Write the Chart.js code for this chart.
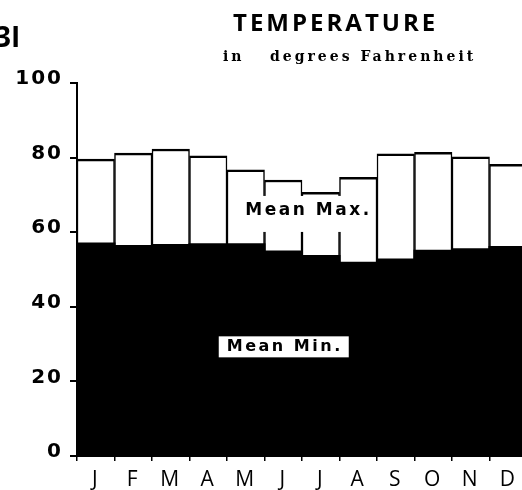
<!DOCTYPE html>
<html>
<head>
<meta charset="utf-8">
<script src="https://cdn.jsdelivr.net/npm/chart.js@4.4.0/dist/chart.umd.min.js"></script>
<style>
  html, body { margin: 0; padding: 0; background: #fff; overflow: hidden; }
  #wrap { width: 530px; height: 490px; }
</style>
</head>
<body>
<div id="wrap"><canvas id="tempChart" width="530" height="490"></canvas></div>
<script>
// months and mean temperatures (deg F)
var months = ['J', 'F', 'M', 'A', 'M', 'J', 'J', 'A', 'S', 'O', 'N', 'D'];
var meanMax = [79.6, 81.2, 82.3, 80.5, 76.7, 74.0, 70.7, 74.7, 81.0, 81.4, 80.2, 78.2];
var meanMin = [57.0, 56.3, 56.6, 56.8, 56.8, 54.8, 53.6, 51.8, 52.7, 55.0, 55.4, 56.0];
var yTicks = [0, 20, 40, 60, 80, 100];

// white bars float from min to max
var maxRange = meanMax.map(function (v, i) { return [meanMin[i], v]; });

// headings and in-chart labels
var textPlugin = {
    id: 'texts',
    beforeDraw: function (chart) {
        // spaced out lettering for the tick labels
        chart.ctx.letterSpacing = '2px';
    },
    afterDraw: function (chart) {
        var ctx = chart.ctx;
        var x = chart.scales.x;
        var y = chart.scales.y;
        ctx.save();
        ctx.fillStyle = '#000';
        ctx.textBaseline = 'alphabetic';
        ctx.textAlign = 'left';

        ctx.letterSpacing = '0px';
        ctx.font = 'bold 28px "Open Sans"';
        ctx.fillText('3I', -5, 47);

        ctx.letterSpacing = '3px';
        ctx.font = 'bold 24px "Open Sans"';
        ctx.fillText('TEMPERATURE', 233, 31);

        ctx.letterSpacing = '3px';
        ctx.font = 'bold 14px "DejaVu Serif"';
        ctx.fillText('in', 223, 61);
        ctx.fillText('degrees Fahrenheit', 270, 61);

        // Mean Max. label sits in the white band
        var cx = (x.getPixelForValue(5) + x.getPixelForValue(4)) / 2 + 42;
        var cy = y.getPixelForValue(65.7);
        ctx.fillStyle = '#fff';
        ctx.fillRect(cx - 63, cy - 15, 128, 36);
        ctx.fillStyle = '#000';
        ctx.textAlign = 'center';
        ctx.textBaseline = 'middle';
        ctx.letterSpacing = '2.5px';
        ctx.font = 'bold 17px "DejaVu Sans"';
        ctx.fillText('Mean Max.', cx + 2, cy);

        // Mean Min. label boxed in the black area
        var mx = x.getPixelForValue(4) + 38;
        var my = y.getPixelForValue(29.4);
        ctx.fillStyle = '#fff';
        ctx.fillRect(mx - 65, my - 10, 130, 21);
        ctx.fillStyle = '#000';
        ctx.letterSpacing = '2.5px';
        ctx.font = 'bold 16px "DejaVu Sans"';
        ctx.fillText('Mean Min.', mx + 1, my + 1);
        ctx.restore();
    }
};

var ctx = document.getElementById('tempChart').getContext('2d');
var tempChart = new Chart(ctx, {
    type: 'bar',
    data: {
        labels: months,
        datasets: [{
            label: 'Mean Min.',
            data: meanMin,
            backgroundColor: '#000',
            borderWidth: 0,
            inflateAmount: 1,
            barPercentage: 1,
            categoryPercentage: 1,
            grouped: false
        }, {
            label: 'Mean Max.',
            data: maxRange,
            backgroundColor: '#fff',
            borderColor: '#000',
            borderWidth: { top: 2.5, left: 1.5, right: 1.5, bottom: 0 },
            borderSkipped: 'start',
            barPercentage: 1,
            categoryPercentage: 1,
            grouped: false
        }]
    },
    options: {
        responsive: false,
        animation: false,
        devicePixelRatio: 1,
        layout: { padding: { top: 83, right: 3, left: 0, bottom: 0 } },
        plugins: {
            legend: { display: false },
            tooltip: { enabled: false }
        },
        scales: {
            x: {
                afterFit: function (s) { s.height = 34; },
                grid: {
                    offset: true,
                    drawOnChartArea: false,
                    drawTicks: true,
                    tickLength: 5,
                    color: '#000',
                    lineWidth: 1.5
                },
                border: { display: true, color: '#000', width: 2 },
                ticks: {
                    color: '#000',
                    padding: 6,
                    maxRotation: 0,
                    autoSkip: false,
                    font: { family: '"Open Sans"', size: 21 }
                }
            },
            y: {
                min: 0,
                max: 100,
                afterFit: function (s) { s.width = 77; },
                afterBuildTicks: function (s) {
                    s.ticks = yTicks.map(function (v) { return { value: v }; });
                },
                grid: {
                    drawOnChartArea: false,
                    drawTicks: true,
                    tickLength: 7,
                    color: '#000',
                    lineWidth: 2
                },
                border: { display: true, color: '#000', width: 2 },
                ticks: {
                    color: '#000',
                    padding: 7,
                    labelOffset: -4,
                    font: { family: '"DejaVu Sans"', size: 20, weight: 'bold' }
                }
            }
        }
    },
    plugins: [textPlugin]
});
</script>
</body>
</html>
